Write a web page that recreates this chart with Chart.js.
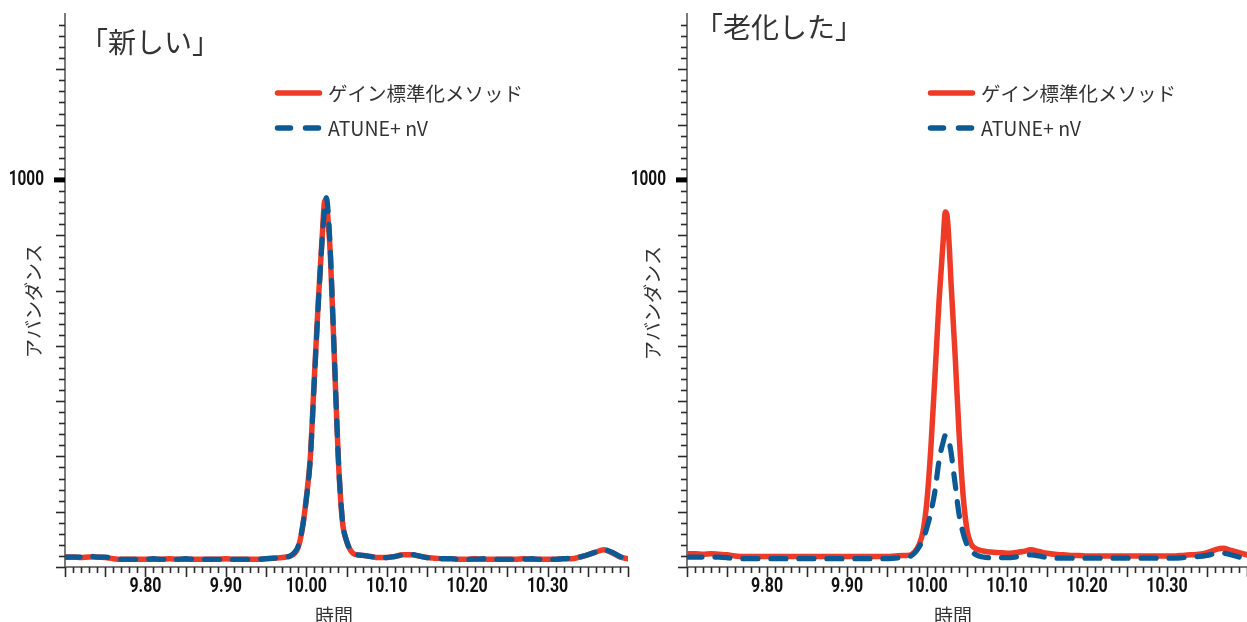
<!DOCTYPE html>
<html><head><meta charset="utf-8">
<script src="https://cdn.jsdelivr.net/npm/chart.js@4.4.1/dist/chart.umd.min.js"></script>
<style>
html,body{margin:0;padding:0;background:#fff;overflow:hidden;}
#wrap{position:relative;width:1247px;height:622px;}
canvas{position:absolute;top:0;}
#c1{left:0;}
#c2{left:622px;}
</style></head><body>
<div id="wrap"><canvas id="c1" width="640" height="622"></canvas><canvas id="c2" width="625" height="622"></canvas></div>
<script>
// ---- data ----
const times = [9.700,9.710,9.720,9.730,9.740,9.750,9.760,9.770,9.780,9.790,9.800,9.810,9.820,9.830,9.840,9.850,9.860,9.870,9.880,9.890,9.900,9.910,9.920,9.930,9.940,9.950,9.960,9.970,
 9.975,9.980,9.985,9.990,9.995,10.000,10.005,10.010,10.015,10.020,
 10.023,10.025,10.028,10.030,
 10.035,10.040,10.045,10.050,10.055,10.060,
 10.070,10.080,10.090,10.100,10.110,10.120,10.130,10.140,10.150,10.160,10.170,
 10.180,10.190,10.200,10.210,10.220,10.230,10.240,10.250,10.260,10.270,10.280,10.290,10.300,10.310,10.320,10.330,
 10.340,10.350,10.360,10.370,10.380,10.390,10.400];

const newGain = [318,318,317,318,318,317,315,314,314,314,314,314,314,315,314,314,314,314,314,314,315,314,314,314,314,315,316,317,
 318,320,324,336,368,424,498,642,782,903,
 962,958,910,862,
 674,490,382,347,330,323,
 321,319,317,317,319,322,322,320,317,316,315,
 315,314,314,315,314,314,314,314,314,315,314,314,314,314,315,315,
 318,322,327,331,326,318,315];

const newAtune = [318,318,318,320,318,318,315,314,314,314,314,315,314,314,314,315,314,314,314,314,314,314,314,314,314,315,316,317,
 318,320,326,338,370,422,495,636,776,898,
 952,968,925,868,
 678,492,384,348,331,324,
 321,319,317,317,319,322,323,320,317,316,315,
 315,314,314,314,315,314,314,314,314,314,315,314,314,314,315,316,
 318,322,327,331,327,319,315];

const oldGain = [324,324,323,324,323,322,320,319,319,319,319,319,319,319,319,319,319,319,319,319,319,319,319,319,319,319,320,321,
 321,322,328,340,364,421,520,647,780,885,
 942,936,875,815,
 687,544,432,367,342,334,
 329,327,326,325,326,328,331,328,325,323,322,
 321,321,320,320,320,320,320,320,320,320,320,320,320,320,321,322,
 323,326,331,334,330,326,322];

const oldAtune = [318,318,318,318,318,317,315,315,315,315,315,315,315,315,315,315,315,315,315,315,315,315,315,315,315,315,316,317,
 318,320,326,336,350,372,400,438,492,525,
 538,537,524,508,
 452,396,362,340,330,323,
 318,317,317,317,318,320,322,320,317,316,316,
 316,316,316,316,316,316,316,316,316,316,316,316,316,316,317,318,
 319,321,324,325,322,318,316];

const seriesNames = ['ゲイン標準化メソッド', 'ATUNE+ nV'];
const panelTitles = ['「新しい」', '「老化した」'];
const yAxisTitle = 'アバンダンス';
const xAxisTitle = '時間';
const xTickLabels = ['9.80', '9.90', '10.00', '10.10', '10.20', '10.30'];
const yTickLabels = ['1000'];

// ---- styling ----
const RED = '#EE3A26';
const BLUE = '#0B5A96';
const TXT = '#333333';
const CJK = "'Noto Sans CJK JP','Noto Sans',sans-serif";
const NUM = "Roboto,'DejaVu Sans Condensed',sans-serif";

function condensedText(ctx, text, x, y, align, font, sx) {
  ctx.save();
  ctx.font = font;
  ctx.textBaseline = 'middle';
  ctx.textAlign = align;
  ctx.translate(x, y);
  ctx.scale(sx, 1);
  ctx.fillText(text, 0, 0);
  ctx.restore();
}

function makeDecor(cfg) {
  return {
    id: 'decor',
    afterDraw(chart) {
      const ctx = chart.ctx, xs = chart.scales.x, ys = chart.scales.y, a = chart.chartArea;
      ctx.save();
      // y ticks (minor every 20, major every 100)
      ctx.strokeStyle = '#2a2a2a'; ctx.lineWidth = 1.6;
      for (let k = 15; k < 65; k++) {
        const v = k * 20;
        const py = Math.round(ys.getPixelForValue(v)) + 0.5;
        const len = (v % 100 === 0) ? 9 : 6;
        ctx.beginPath(); ctx.moveTo(a.left - len, py); ctx.lineTo(a.left, py); ctx.stroke();
      }
      // x ticks (minor every 0.01, major every 0.05)
      for (let k = 970; k <= 1040; k++) {
        const px = Math.round(xs.getPixelForValue(k / 100)) + 0.5;
        const len = (k % 5 === 0) ? 10 : 6;
        ctx.beginPath(); ctx.moveTo(px, a.bottom); ctx.lineTo(px, a.bottom + len); ctx.stroke();
      }
      // tick labels, placed by the scales
      ys.ticks.forEach(t => {
        const py = ys.getPixelForValue(t.value);
        ctx.fillStyle = '#000';
        ctx.fillRect(a.left - 11, py - 2.5, 11, 5);
        ctx.fillStyle = '#111';
        condensedText(ctx, String(t.value), a.left - 21, py, 'right', 'bold 20px ' + NUM, 0.77);
      });
      ctx.fillStyle = '#111';
      xs.ticks.forEach(t => {
        const px = xs.getPixelForValue(t.value);
        condensedText(ctx, t.value.toFixed(2), px, 587, 'center', 'bold 21px ' + NUM, 0.76);
      });
      // panel title
      ctx.fillStyle = TXT;
      ctx.font = '28px ' + CJK;
      ctx.textAlign = 'left'; ctx.textBaseline = 'middle';
      ctx.fillText(cfg.title, cfg.titleX, cfg.titleY);
      // legend
      ctx.font = '19.5px ' + CJK;
      chart.data.datasets.forEach((ds, i) => {
        const y = cfg.legY + i * 35;
        ctx.save();
        ctx.strokeStyle = ds.borderColor; ctx.lineWidth = 5.5; ctx.lineCap = 'round';
        ctx.setLineDash(ds.borderDash ? [13, 15] : []);
        ctx.beginPath(); ctx.moveTo(cfg.legX + 2.5, y); ctx.lineTo(cfg.legX + 44.5, y); ctx.stroke();
        ctx.restore();
        ctx.fillStyle = TXT;
        ctx.fillText(ds.label, cfg.legX + 53, y + 1);
      });
      // axis titles
      ctx.font = '19px ' + CJK;
      ctx.textAlign = 'center';
      ctx.fillText(xAxisTitle, cfg.xTitleX, 616);
      ctx.save();
      ctx.translate(cfg.yTitleX, cfg.yTitleY); ctx.rotate(-Math.PI / 2);
      ctx.fillText(yAxisTitle, 0, 0);
      ctx.restore();
      ctx.restore();
    }
  };
}

function zeroPad(s) { s.paddingTop = 0; s.paddingBottom = 0; s.paddingLeft = 0; s.paddingRight = 0; }

function makeChart(id, gain, atune, cfg) {
  const pts = arr => times.map((t, i) => ({ x: t, y: arr[i] }));
  return new Chart(document.getElementById(id), {
    type: 'line',
    data: {
      datasets: [
        { label: seriesNames[0], data: pts(gain), borderColor: RED, borderWidth: 5.5, pointRadius: 0,
          cubicInterpolationMode: 'monotone', fill: false, order: 2, borderCapStyle: 'round', borderJoinStyle: 'round' },
        { label: seriesNames[1], data: pts(atune), borderColor: BLUE, borderWidth: 5.2, pointRadius: 0,
          borderDash: [15, 13], borderCapStyle: 'round', borderJoinStyle: 'round',
          cubicInterpolationMode: 'monotone', fill: false, order: 1 }
      ]
    },
    options: {
      responsive: false, animation: false, events: [],
      layout: { padding: { top: 14, right: cfg.padRight, left: 0, bottom: 0 } },
      plugins: { legend: { display: false }, tooltip: { enabled: false } },
      scales: {
        x: {
          type: 'linear', min: 9.70, max: 10.40,
          afterFit(s) { s.height = 55; zeroPad(s); },
          afterBuildTicks(s) { s.ticks = xTickLabels.map(l => ({ value: parseFloat(l) })); },
          ticks: { display: false },
          grid: { display: false, drawTicks: false },
          border: { display: true, color: '#7a7a7a', width: 2 }
        },
        y: {
          min: 300, max: 1300,
          afterFit(s) { s.width = 65; zeroPad(s); },
          afterBuildTicks(s) { s.ticks = yTickLabels.map(l => ({ value: parseFloat(l) })); },
          ticks: { display: false },
          grid: { display: false, drawTicks: false },
          border: { display: true, color: '#7a7a7a', width: 2 }
        }
      }
    },
    plugins: [makeDecor(cfg)]
  });
}

makeChart('c1', newGain, newAtune, { padRight: 12, title: panelTitles[0], titleX: 80, titleY: 42,
  legX: 275, legY: 93, xTitleX: 334, yTitleX: 34, yTitleY: 301 });
makeChart('c2', oldGain, oldAtune, { padRight: 0, title: panelTitles[1], titleX: 695 - 622, titleY: 27,
  legX: 928 - 622, legY: 93, xTitleX: 953 - 622, yTitleX: 31, yTitleY: 303 });
</script>
</body></html>
